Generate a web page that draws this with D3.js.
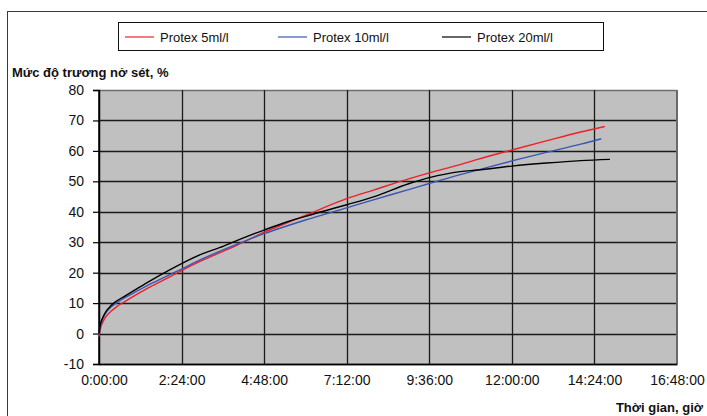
<!DOCTYPE html>
<html>
<head>
<meta charset="utf-8">
<script src="https://cdn.jsdelivr.net/npm/d3@7"></script>
<style>
  html, body { margin: 0; padding: 0; background: #fff; }
  svg { display: block; }
  text { font-family: "Liberation Sans", Arial, sans-serif; }
</style>
</head>
<body>
<svg id="chart" width="707" height="416"></svg>
<script>
// ---- Data (hours, percent) ----
const seriesNames = ["Protex 5ml/l", "Protex 10ml/l", "Protex 20ml/l"];
const seriesColors = ["#ee2028", "#3a55b4", "#000000"];

const timeRed   = [0, 0.05, 0.1, 0.2, 0.35, 0.5, 0.75, 1, 1.5, 2, 2.4, 3, 3.5, 4, 4.8, 5.5, 6, 7.2, 8, 9, 9.6, 10.5, 11, 12, 13, 14, 14.7];
const valueRed  = [-1, 2, 3.5, 5.5, 7.3, 8.7, 10.5, 12.2, 15.4, 18.3, 20.7, 24, 26.5, 29, 33.3, 36.5, 38.8, 44.3, 47.2, 50.8, 52.8, 55.5, 57.2, 60.3, 63.3, 66.2, 68];

const timeBlue  = [0, 0.05, 0.1, 0.2, 0.35, 0.5, 0.75, 1, 1.5, 2, 2.4, 3, 3.5, 4, 4.8, 5.5, 6, 7.2, 8, 9, 9.6, 10.5, 11, 12, 13, 14, 14.6];
const valueBlue = [-0.5, 3, 4.5, 6.8, 8.7, 10, 11.8, 13.3, 16.3, 19, 21.2, 24.5, 27, 29.3, 32.8, 35.5, 37.3, 41.3, 44, 47.3, 49.3, 52.2, 53.7, 56.7, 59.5, 62.2, 64];

const timeBlack  = [0, 0.05, 0.1, 0.2, 0.35, 0.5, 0.75, 1, 1.5, 2, 2.4, 3, 3.5, 4, 4.8, 5.5, 6, 7.2, 8, 9, 9.6, 10.5, 11, 12, 13, 14, 14.85];
const valueBlack = [0, 3.5, 5, 7.2, 9.2, 10.6, 12.3, 14, 17.4, 20.6, 23, 26.2, 28.2, 30.5, 34, 36.8, 38.5, 42.3, 45, 49.2, 51.2, 53.2, 53.7, 55, 56, 56.8, 57.2];

const xTickValues = [0, 2.4, 4.8, 7.2, 9.6, 12, 14.4, 16.8];
const xTickLabels = ["0:00:00", "2:24:00", "4:48:00", "7:12:00", "9:36:00", "12:00:00", "14:24:00", "16:48:00"];
const yTickValues = [-10, 0, 10, 20, 30, 40, 50, 60, 70, 80];

const yTitle = "Mức độ trương nở sét, %";
const xTitle = "Thời gian, giờ";

// ---- Layout ----
const svg = d3.select("#chart");
const plot = { left: 99, right: 677, top: 90, bottom: 364 };

const x = d3.scaleLinear().domain([0, 16.8]).range([plot.left, plot.right]);
const y = d3.scaleLinear().domain([-10, 80]).range([plot.bottom, plot.top]);

// outer frame
svg.append("rect")
  .attr("x", 7.5).attr("y", 11.5).attr("width", 740).attr("height", 440)
  .attr("fill", "none").attr("stroke", "#3a3a3a").attr("stroke-width", 1);

// plot background
svg.append("rect")
  .attr("x", plot.left).attr("y", plot.top)
  .attr("width", plot.right - plot.left).attr("height", plot.bottom - plot.top)
  .attr("fill", "#c0c0c0");

// horizontal gridlines
svg.append("g").selectAll("line").data(yTickValues).join("line")
  .attr("x1", plot.left).attr("x2", plot.right)
  .attr("y1", d => Math.round(y(d)) + 0.5).attr("y2", d => Math.round(y(d)) + 0.5)
  .attr("stroke", d => d === 80 ? "#6e6e6e" : "#1a1a1a").attr("stroke-width", 1.3);

// vertical gridlines
svg.append("g").selectAll("line").data(xTickValues.slice(1, -1)).join("line")
  .attr("x1", d => Math.round(x(d)) + 0.5).attr("x2", d => Math.round(x(d)) + 0.5)
  .attr("y1", plot.top).attr("y2", plot.bottom)
  .attr("stroke", "#1a1a1a").attr("stroke-width", 1.3);

// right border
svg.append("line")
  .attr("x1", plot.right).attr("x2", plot.right)
  .attr("y1", plot.top).attr("y2", plot.bottom)
  .attr("stroke", "#6a6a6a").attr("stroke-width", 2);

// Y axis
const yAxis = d3.axisLeft(y).tickValues(yTickValues).tickSize(6).tickPadding(9).tickFormat(d => String(d));
const gy = svg.append("g").attr("transform", `translate(${plot.left},0)`).call(yAxis);
gy.select(".domain").attr("stroke", "#000").attr("stroke-width", 1.5);
gy.selectAll(".tick line").attr("stroke", "#000").attr("stroke-width", 1.2);
gy.selectAll(".tick text").attr("font-size", 14).attr("fill", "#111")
  .attr("font-family", "'Liberation Sans', Arial, sans-serif");

// X axis
const xAxis = d3.axisBottom(x).tickValues(xTickValues).tickSize(0).tickPadding(11)
  .tickFormat((d, i) => xTickLabels[i]);
const gx = svg.append("g").attr("transform", `translate(0,${plot.bottom})`).call(xAxis);
gx.select(".domain").attr("stroke", "#000").attr("stroke-width", 1.3);
gx.selectAll(".tick text").attr("font-size", 14).attr("fill", "#111")
  .attr("font-family", "'Liberation Sans', Arial, sans-serif")
  .attr("dx", (d, i) => i === 0 ? 5 : 0);

// left axis line over gridlines
svg.append("line")
  .attr("x1", plot.left).attr("x2", plot.left)
  .attr("y1", plot.top).attr("y2", plot.bottom)
  .attr("stroke", "#000").attr("stroke-width", 1.5);

// series lines
const series = [
  { name: seriesNames[0], color: seriesColors[0], t: timeRed, v: valueRed },
  { name: seriesNames[1], color: seriesColors[1], t: timeBlue, v: valueBlue },
  { name: seriesNames[2], color: seriesColors[2], t: timeBlack, v: valueBlack }
];
const line = d3.line().x(d => x(d[0])).y(d => y(d[1])).curve(d3.curveMonotoneX);
svg.append("g").selectAll("path").data(series).join("path")
  .attr("d", s => line(s.t.map((t, i) => [t, s.v[i]])))
  .attr("fill", "none")
  .attr("stroke", s => s.color)
  .attr("stroke-width", 1.4);

// axis titles
svg.append("text").attr("x", 12).attr("y", 77)
  .attr("font-size", 13).attr("font-weight", "bold").attr("fill", "#111")
  .text(yTitle);
svg.append("text").attr("x", 703).attr("y", 412).attr("text-anchor", "end")
  .attr("font-size", 13).attr("font-weight", "bold").attr("fill", "#111")
  .text(xTitle);

// legend
const legend = svg.append("g");
legend.append("rect").attr("x", 118.5).attr("y", 22.5).attr("width", 485).attr("height", 28)
  .attr("fill", "#fff").attr("stroke", "#111").attr("stroke-width", 1);
const legendX = [125, 278, 442];
series.forEach((s, i) => {
  legend.append("line")
    .attr("x1", legendX[i]).attr("x2", legendX[i] + 29)
    .attr("y1", 37).attr("y2", 37)
    .attr("stroke", s.color).attr("stroke-width", 1.2);
  legend.append("text")
    .attr("x", legendX[i] + 35).attr("y", 41.5)
    .attr("font-size", 13).attr("fill", "#111")
    .text(s.name);
});
</script>
</body>
</html>
